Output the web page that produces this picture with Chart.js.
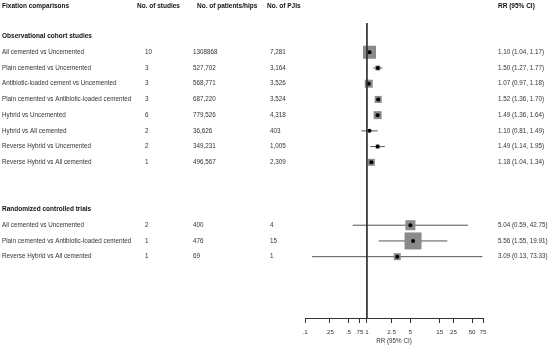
<!DOCTYPE html>
<html>
<head>
<meta charset="utf-8">
<script src="https://cdn.jsdelivr.net/npm/chart.js@4"></script>
<style>html,body{margin:0;padding:0;background:#fff}</style>
</head>
<body>
<canvas id="forest" width="550" height="346"></canvas>
<script>
const groups = ['Observational cohort studies', 'Randomized controlled trials']
const groupSizes = [8, 3]
const comparisons = [
  'All cemented vs Uncemented',
  'Plain cemented vs Uncemented',
  'Antibiotic-loaded cement vs Uncemented',
  'Plain cemented vs Antibiotic-loaded cemented',
  'Hybrid vs Uncemented',
  'Hybrid vs All cemented',
  'Reverse Hybrid vs Uncemented',
  'Reverse Hybrid vs All cemented',
  'All cemented vs Uncemented',
  'Plain cemented vs Antibiotic-loaded cemented',
  'Reverse Hybrid vs All cemented'
]
const studies = [10, 3, 3, 3, 6, 2, 2, 1, 2, 1, 1]
const patients = ['1308868', '527,702', '568,771', '687,220', '779,526', '36,626', '349,231', '496,567', '400', '476', '69']
const pjis = ['7,281', '3,164', '3,526', '3,524', '4,318', '403', '1,005', '2,309', '4', '15', '1']
const rr = [1.10, 1.50, 1.07, 1.52, 1.49, 1.10, 1.49, 1.18, 5.04, 5.56, 3.09]
const lower = [1.04, 1.27, 0.97, 1.36, 1.36, 0.81, 1.14, 1.04, 0.59, 1.55, 0.13]
const upper = [1.17, 1.77, 1.18, 1.70, 1.64, 1.49, 1.95, 1.34, 42.75, 19.91, 73.33]
const weights = [169, 25, 64, 49, 64, 9, 16, 49, 100, 289, 49]
const xTicks = [0.1, 0.25, 0.5, 0.75, 1, 2.5, 5, 15, 25, 50, 75]
const headers = ['Fixation comparisons', 'No. of studies', 'No. of patients/hips', 'No. of PJIs', 'RR (95% CI)']

// row index of each group header and each comparison
const headerRows = []
const rows = []
let r = 0
groupSizes.forEach(n => {
  headerRows.push(r++)
  for (let k = 0; k < n; k++) rows.push(r++)
  r += 2
})

const yMin = -0.86
const yMax = 17.9
const fmt = v => v.toFixed(2)

const ciSets = rows.map((row, i) => ({
  type: 'line',
  data: [{x: lower[i], y: row}, {x: upper[i], y: row}],
  borderColor: '#555',
  borderWidth: 1,
  pointRadius: 0,
  order: 3
}))

const tablePlugin = {
  id: 'table',
  afterDraw(chart) {
    const ctx = chart.ctx
    const y = chart.scales.y
    ctx.save()
    ctx.textBaseline = 'middle'
    ctx.fillStyle = '#111'
    ctx.font = 'bold 6.5px "Liberation Sans", Arial, sans-serif'
    const hx = [2, 137, 197, 267, 498]
    headers.forEach((h, k) => ctx.fillText(h, hx[k], y.getPixelForValue(-1.9)))
    groups.forEach((g, k) => ctx.fillText(g, 2, y.getPixelForValue(headerRows[k])))
    ctx.fillStyle = '#333'
    ctx.font = '6.3px "Liberation Sans", Arial, sans-serif'
    rows.forEach((row, i) => {
      const py = y.getPixelForValue(row)
      ctx.fillText(comparisons[i], 2, py)
      ctx.fillText(String(studies[i]), 145, py)
      ctx.fillText(patients[i], 193, py)
      ctx.fillText(pjis[i], 270, py)
      ctx.fillText(fmt(rr[i]) + ' (' + fmt(lower[i]) + ', ' + fmt(upper[i]) + ')', 498, py)
    })
    ctx.restore()
  }
}

new Chart(document.getElementById('forest'), {
  type: 'scatter',
  data: {
    datasets: [
      {
        type: 'line',
        data: [{x: 1, y: yMin}, {x: 1, y: yMax}],
        borderColor: '#333',
        borderWidth: 1,
        pointRadius: 0,
        order: 0
      },
      {
        data: rows.map((row, i) => ({x: rr[i], y: row})),
        pointStyle: 'circle',
        pointRadius: 2,
        backgroundColor: '#000',
        borderWidth: 0,
        order: 1
      },
      {
        data: rows.map((row, i) => ({x: rr[i], y: row})),
        pointStyle: 'rect',
        pointRadius: weights.map(w => Math.sqrt(w) / Math.SQRT2),
        backgroundColor: '#8a8a8a',
        borderWidth: 0,
        order: 2
      },
      ...ciSets
    ]
  },
  options: {
    responsive: false,
    animation: false,
    layout: {padding: {left: 305, right: 67, top: 23, bottom: 1}},
    plugins: {legend: {display: false}, tooltip: {enabled: false}},
    scales: {
      x: {
        type: 'logarithmic',
        min: 0.1,
        max: 75,
        afterBuildTicks: scale => { scale.ticks = xTicks.map(v => ({value: v})) },
        ticks: {
          callback: v => String(v).replace(/^0\./, '.'),
          autoSkip: false,
          maxRotation: 0,
          padding: 6,
          color: '#333',
          font: {family: '"Liberation Sans", Arial, sans-serif', size: 6.2}
        },
        grid: {drawOnChartArea: false, tickLength: 5, color: '#333'},
        border: {color: '#333'},
        title: {
          display: true,
          text: 'RR (95% CI)',
          color: '#333',
          padding: {top: -5, bottom: 0},
          font: {family: '"Liberation Sans", Arial, sans-serif', size: 6.3}
        }
      },
      y: {type: 'linear', reverse: true, min: yMin, max: yMax, display: false}
    }
  },
  plugins: [tablePlugin]
})
</script>
</body>
</html>
